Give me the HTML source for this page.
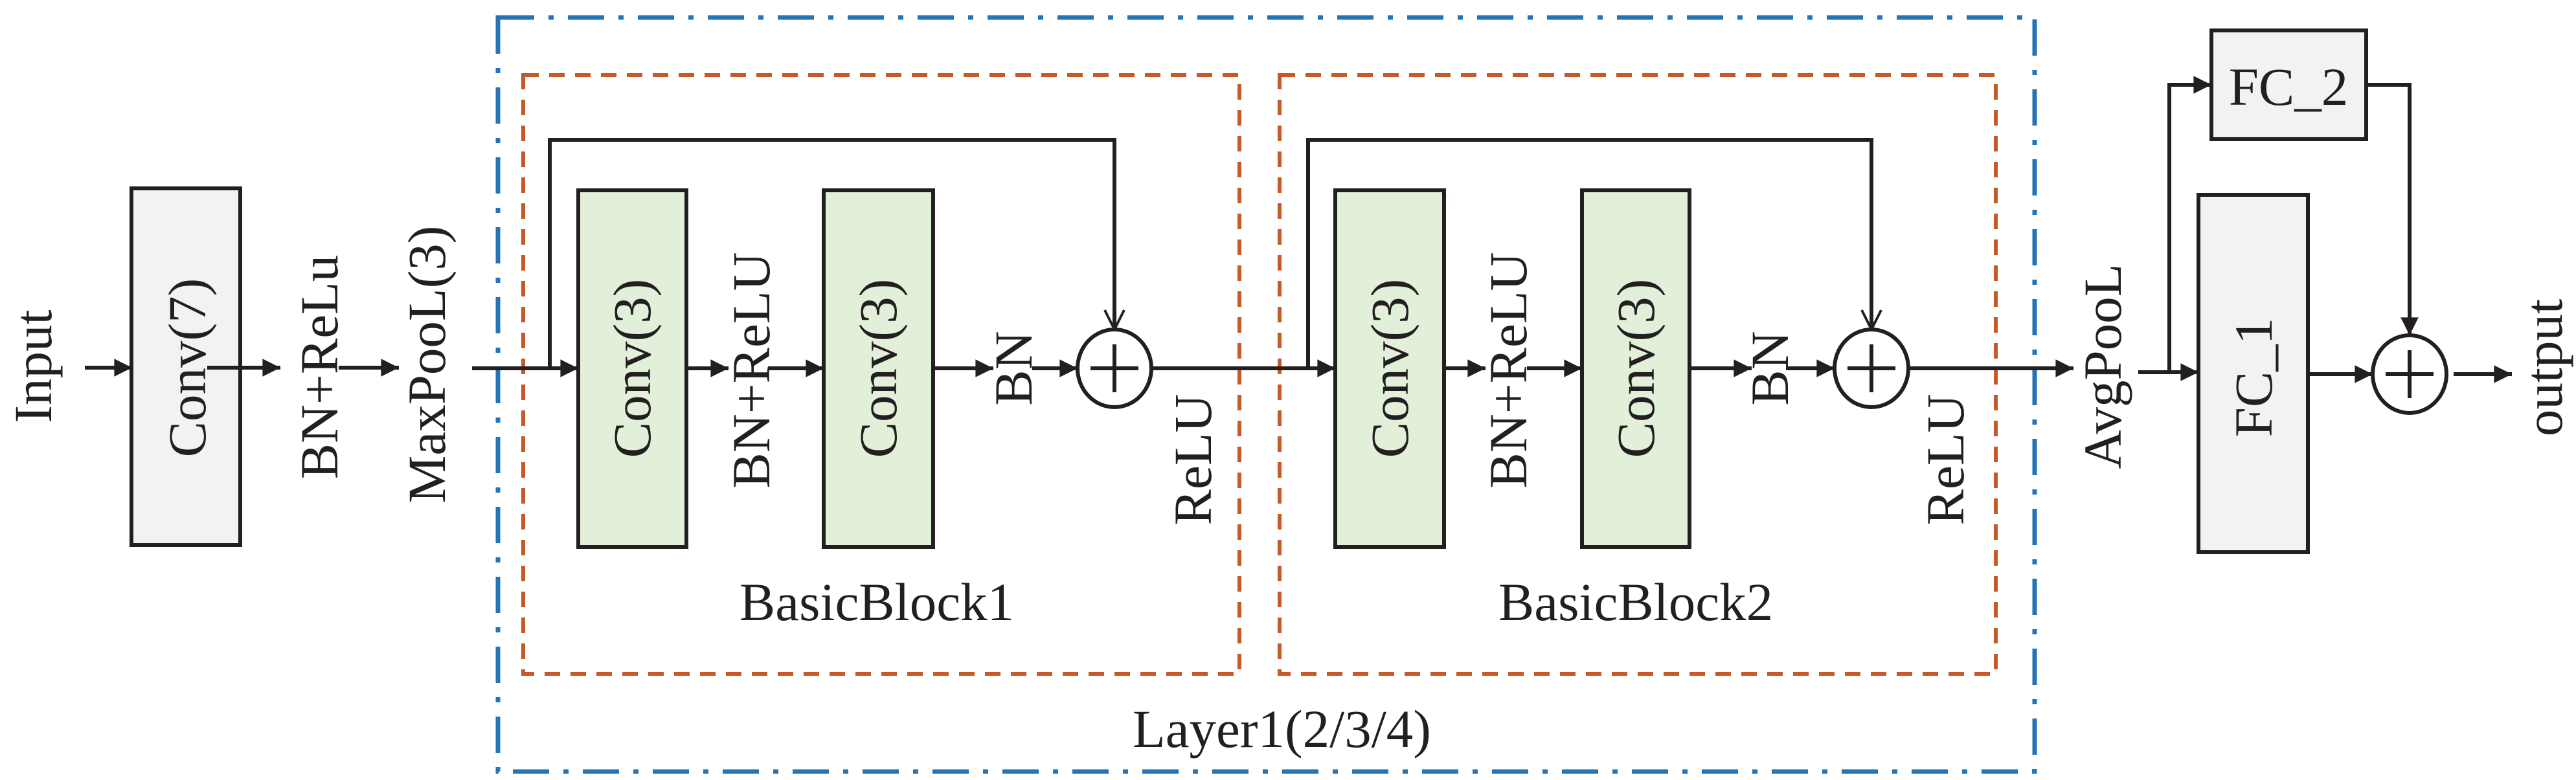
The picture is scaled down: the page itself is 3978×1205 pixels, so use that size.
<!DOCTYPE html>
<html><head><meta charset="utf-8"><style>
html,body{margin:0;padding:0;background:#fff;}
svg{display:block;}
text{font-family:"Liberation Serif",serif;fill:#231f20;font-size:83px;}
</style></head><body>
<svg width="3978" height="1205" viewBox="0 0 3978 1205" xmlns="http://www.w3.org/2000/svg">
<defs>
<marker id="a" viewBox="0 0 10 10" refX="10" refY="5" markerWidth="5" markerHeight="4.6" markerUnits="strokeWidth" orient="auto"><path d="M0,0 L10,5 L0,10 z" fill="#231f20"/></marker>
<marker id="v" viewBox="0 0 12 12" refX="11" refY="6" markerWidth="6" markerHeight="6" markerUnits="strokeWidth" orient="auto"><path d="M1,1 L11,6 L1,11" fill="none" stroke="#231f20" stroke-width="1.3"/></marker>
</defs>
<rect x="769" y="27" width="2373" height="1165" fill="none" stroke="#2574b6" stroke-width="7" stroke-dasharray="56 22 8 22"/>
<rect x="808" y="116" width="1106" height="925" fill="none" stroke="#c55a28" stroke-width="6" stroke-dasharray="24 16"/>
<rect x="1976" y="116" width="1106" height="925" fill="none" stroke="#c55a28" stroke-width="6" stroke-dasharray="24 16"/>
<g stroke="#231f20" stroke-width="6">
<rect x="203" y="291" width="168" height="551" fill="#f2f2f2"/>
<rect x="893" y="294" width="167" height="551" fill="#e2f0d9"/>
<rect x="1272" y="294" width="169" height="551" fill="#e2f0d9"/>
<rect x="2062" y="294" width="168" height="551" fill="#e2f0d9"/>
<rect x="2443" y="294" width="166" height="551" fill="#e2f0d9"/>
<rect x="3415" y="47" width="239" height="168" fill="#f2f2f2"/>
<rect x="3395" y="301" width="169" height="552" fill="#f2f2f2"/>
<ellipse cx="1721" cy="569" rx="57" ry="60" fill="none"/>
<ellipse cx="2890" cy="569" rx="57" ry="60" fill="none"/>
<ellipse cx="3721" cy="578" rx="57" ry="60" fill="none"/>
<path d="M1684 569H1758M1721 532V606M2853 569H2927M2890 532V606M3684 578H3758M3721 541V615" fill="none"/>
</g>
<g stroke="#231f20" stroke-width="6" fill="none">
<path d="M131 568H204" marker-end="url(#a)"/>
<path d="M320 568H433" marker-end="url(#a)"/>
<path d="M523 568H616" marker-end="url(#a)"/>
<path d="M729 569H893" marker-end="url(#a)"/>
<path d="M849 569V216H1721V509" marker-end="url(#v)"/>
<path d="M1060 569H1125" marker-end="url(#a)"/>
<path d="M1186 569H1272" marker-end="url(#a)"/>
<path d="M1441 569H1534" marker-end="url(#a)"/>
<path d="M1594 569H1664" marker-end="url(#a)"/>
<path d="M1778 569H2062" marker-end="url(#a)"/>
<path d="M2020 569V216H2890V509" marker-end="url(#v)"/>
<path d="M2230 569H2294" marker-end="url(#a)"/>
<path d="M2358 569H2443" marker-end="url(#a)"/>
<path d="M2609 569H2705" marker-end="url(#a)"/>
<path d="M2758 569H2833" marker-end="url(#a)"/>
<path d="M2947 569H3202" marker-end="url(#a)"/>
<path d="M3302 575H3395" marker-end="url(#a)"/>
<path d="M3350 575V131H3415" marker-end="url(#a)"/>
<path d="M3654 131H3721V518" marker-end="url(#a)"/>
<path d="M3564 578H3664" marker-end="url(#a)"/>
<path d="M3789 578H3879" marker-end="url(#a)"/>
</g>
<g text-anchor="middle" dominant-baseline="central">
<text transform="translate(51,566) rotate(-90)">Input</text>
<text transform="translate(289,568) rotate(-90)">Conv(7)</text>
<text transform="translate(493,567) rotate(-90)">BN+ReLu</text>
<text transform="translate(659,563) rotate(-90)">MaxPooL(3)</text>
<text transform="translate(976,569) rotate(-90)">Conv(3)</text>
<text transform="translate(1356,569) rotate(-90)">Conv(3)</text>
<text transform="translate(1160,572) rotate(-90)">BN+ReLU</text>
<text transform="translate(1565,569) rotate(-90)">BN</text>
<text transform="translate(1842,710) rotate(-90)">ReLU</text>
<text transform="translate(2146,569) rotate(-90)">Conv(3)</text>
<text transform="translate(2526,569) rotate(-90)">Conv(3)</text>
<text transform="translate(2329,572) rotate(-90)">BN+ReLU</text>
<text transform="translate(2733,569) rotate(-90)">BN</text>
<text transform="translate(3004,710) rotate(-90)">ReLU</text>
<text transform="translate(3247,566) rotate(-90)">AvgPooL</text>
<text transform="translate(3480,583) rotate(-90)">FC_1</text>
<text transform="translate(3928,568) rotate(-90)">output</text>
<text x="3534" y="134">FC_2</text>
</g>
<text x="1354" y="958" text-anchor="middle">BasicBlock1</text>
<text x="2526" y="958" text-anchor="middle">BasicBlock2</text>
<text x="1749" y="1154" font-size="82">Layer1(2/3/4)</text>
</svg>
</body></html>
